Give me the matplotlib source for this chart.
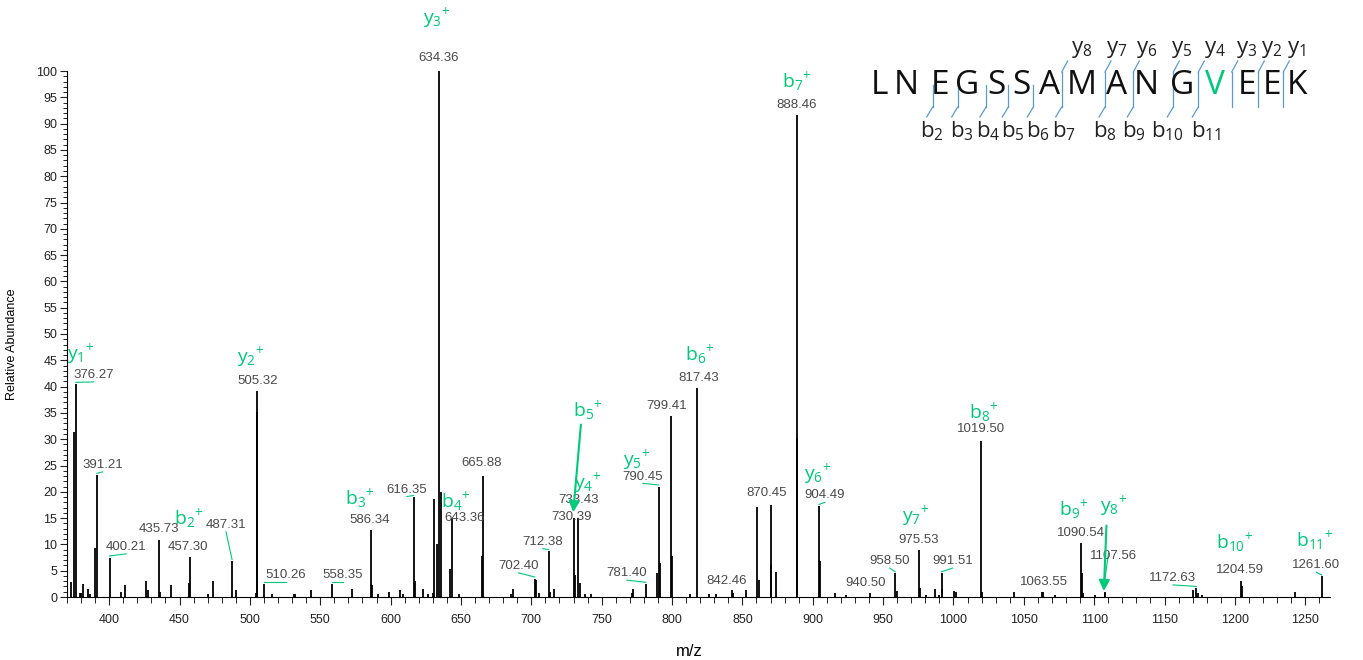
import matplotlib
matplotlib.use('Agg')
import matplotlib.pyplot as plt
from matplotlib.ticker import MultipleLocator

# labelled peaks (m/z, relative abundance) and where their labels sit
lab_mz = [376.27, 391.21, 400.21, 435.73, 457.30, 487.31, 505.32, 510.26, 558.35,
          586.34, 616.35, 634.36, 643.36, 665.88, 702.40, 712.38, 730.39, 733.43,
          781.40, 790.45, 799.41, 817.43, 842.46, 870.45, 888.46, 904.49, 940.50,
          958.50, 975.53, 991.51, 1019.50, 1063.55, 1090.54, 1107.56, 1172.63,
          1204.59, 1261.60]
lab_int = [40.5, 23.2, 7.5, 10.8, 7.6, 6.8, 39.2, 2.5, 2.5,
           12.7, 19.0, 100.0, 14.8, 23.0, 3.5, 8.7, 15.0, 15.1,
           2.5, 21.0, 34.4, 39.7, 1.3, 17.5, 91.6, 17.3, 0.7,
           4.5, 9.0, 4.5, 29.7, 1.0, 10.3, 1.0, 1.7,
           3.1, 3.9]
lab_txt_mz = [388.9, 395.3, 412.0, 435.3, 455.6, 483.0, 505.6, 525.4, 565.9,
              585.4, 611.6, 634.36, 652.4, 665.0, 690.8, 708.1, 728.3, 733.7,
              767.9, 779.3, 796.4, 818.6, 838.6, 867.0, 888.46, 908.7, 937.3,
              954.7, 975.3, 999.4, 1019.3, 1064.0, 1090.9, 1113.7, 1156.0,
              1203.7, 1257.9]
lab_txt_int = [42.2, 25.1, 9.5, 13.0, 9.5, 13.7, 41.1, 4.1, 4.1,
               14.7, 20.4, 102.5, 15.1, 25.4, 5.9, 10.5, 15.3, 18.4,
               4.5, 22.9, 36.3, 41.6, 3.0, 19.7, 93.5, 19.3, 2.6,
               6.8, 10.9, 6.8, 31.9, 2.9, 12.2, 7.8, 3.6,
               5.2, 6.0]
# labels joined to their peak by a small green leader
leader_mz = [376.27, 391.21, 400.21, 487.31, 510.26, 558.35, 616.35, 702.40,
             712.38, 781.40, 790.45, 904.49, 958.50, 991.51, 1172.63, 1261.60]

# unlabelled peaks
other_mz = [372.5, 374.8, 379.4, 380.2, 381.5, 384.8, 386.5, 389.6, 408.7, 411.5,
            426.0, 427.5, 436.1, 444.2, 457.0, 469.9, 473.5, 490.1, 504.2, 504.9,
            515.9, 531.2, 532.0, 543.7, 572.8, 587.1, 590.9, 598.5, 606.4, 608.5,
            617.1, 623.0, 626.6, 629.8, 631.0, 632.9, 635.8, 642.4, 648.3, 664.9,
            685.6, 686.8, 703.4, 705.7, 713.6, 715.9, 730.8, 734.9, 738.2, 742.5,
            771.5, 772.6, 789.2, 791.1, 800.2, 812.5, 826.2, 831.0, 843.0, 852.8,
            860.6, 861.6, 870.1, 874.2, 889.1, 905.5, 915.7, 923.6, 959.7, 976.5,
            980.8, 987.0, 989.5, 992.0, 1000.7, 1001.9, 1020.5, 1042.9, 1062.6,
            1072.2, 1091.4, 1092.0, 1100.8, 1108.0, 1170.4, 1173.5, 1176.4,
            1205.3, 1242.5]
other_int = [2.8, 31.3, 0.8, 0.8, 2.5, 1.6, 0.5, 9.3, 0.9, 2.2,
             3.0, 1.3, 1.0, 2.2, 2.7, 0.6, 3.0, 1.3, 0.8, 35.1,
             0.5, 0.6, 0.6, 1.3, 1.6, 2.3, 0.6, 0.9, 1.3, 0.6,
             3.0, 1.6, 0.5, 0.8, 18.6, 10.0, 20.0, 5.4, 0.5, 7.8,
             0.5, 1.5, 3.2, 0.8, 1.0, 1.6, 4.2, 2.7, 0.5, 0.5,
             0.7, 1.5, 4.5, 6.4, 7.7, 0.5, 0.5, 0.5, 0.8, 1.3,
             17.2, 3.2, 6.1, 4.8, 30.2, 6.8, 0.7, 0.4, 1.2, 1.8,
             0.4, 1.5, 0.4, 1.5, 1.2, 1.0, 1.0, 1.0, 0.9,
             0.4, 4.6, 0.7, 0.4, 0.7, 1.3, 0.7, 0.3,
             2.1, 1.0]

# fragment ion annotations (green)
ion_names = ['y_{1}', 'y_{2}', 'b_{2}', 'b_{3}', 'y_{3}', 'b_{4}', 'b_{5}', 'y_{4}', 'y_{5}',
             'b_{6}', 'b_{7}', 'y_{6}', 'y_{7}', 'b_{8}', 'b_{9}', 'y_{8}', 'b_{10}', 'b_{11}']
ion_mz = [379.4, 500.8, 456.8, 578.3, 633.0, 646.4, 740.1, 740.1, 775.0,
          820.0, 888.8, 903.7, 973.3, 1021.8, 1085.2, 1113.7, 1200.2, 1256.6]
ion_int = [46.2, 45.6, 14.9, 18.7, 110.0, 18.1, 35.4, 21.7, 26.0,
           46.0, 97.9, 23.3, 15.4, 35.1, 16.6, 17.3, 10.3, 10.6]

# peptide sequence and fragment positions
sequence = 'LNEGSSAMANGVEEK'
b_cuts = [2, 3, 4, 5, 6, 7, 8, 9, 10, 11]
y_cuts = [8, 7, 6, 5, 4, 3, 2, 1]

GREEN = '#00c97a'
W, H = 1363, 660

plt.rcParams['font.family'] = ['Liberation Sans', 'DejaVu Sans']
plt.rcParams['mathtext.fontset'] = 'custom'
plt.rcParams['mathtext.rm'] = 'Open Sans'

fig = plt.figure(figsize=(W / 100, H / 100), dpi=100)
ax = fig.add_axes([67 / W, 1 - 597 / H, (1330 - 67) / W, (597 - 71) / H])

ax.vlines(other_mz, 0, other_int, color='black', lw=1.3)
ax.vlines(lab_mz, 0, lab_int, color='black', lw=1.3)

ax.set_xlim(370, 1267.6)
ax.set_ylim(0, 100)
for s in ['top', 'right']:
    ax.spines[s].set_visible(False)
ax.xaxis.set_major_locator(MultipleLocator(50))
ax.xaxis.set_minor_locator(MultipleLocator(10))
ax.yaxis.set_major_locator(MultipleLocator(5))
ax.yaxis.set_minor_locator(MultipleLocator(1))
ax.tick_params(axis='x', which='major', length=6, labelsize=9, pad=6, colors='#222222')
ax.tick_params(axis='x', which='minor', length=4)
ax.tick_params(axis='y', which='major', length=5, labelsize=9, pad=2, colors='#222222')
ax.tick_params(axis='y', which='minor', length=3)
ax.set_ylabel('Relative Abundance', fontsize=9)
ax.yaxis.set_label_coords(-0.039, 0.48)
ax.set_xlabel('m/z', fontsize=12)
ax.xaxis.set_label_coords(0.493, -0.09)

# peak m/z labels
for m, i, tm, ti in zip(lab_mz, lab_int, lab_txt_mz, lab_txt_int):
    ax.text(tm, ti, '%.2f' % m, ha='center', va='center', fontsize=9.5,
            color='#4a4a4a', clip_on=False, zorder=4)
    if m in leader_mz:
        ax.plot([m, tm], [i + 0.3, ti - 1.3], color=GREEN, lw=0.8, zorder=3)

# ion labels
for name, m, i in zip(ion_names, ion_mz, ion_int):
    ax.text(m, i, r'$\mathregular{%s{}^{+}}$' % name, ha='center', va='center',
            fontsize=14, color=GREEN, family='Open Sans', clip_on=False, zorder=5)

arrow = dict(arrowstyle='-|>', color=GREEN, lw=1.5, mutation_scale=16)
ax.annotate('', xy=(729.6, 15.6), xytext=(735.4, 33.3), arrowprops=arrow, zorder=5)
ax.annotate('', xy=(1106.8, 0.6), xytext=(1108.8, 14.1), arrowprops=arrow, zorder=5)
ax.plot([1110.2, 1107.5], [8.3, 3.2], color=GREEN, lw=0.8)

# sequence diagram in the top right, in pixel positions
def fx(x):
    return x / W

def fy(y):
    return 1 - y / H

letter_x = [880, 906.7, 940, 966.7, 996.7, 1021.7, 1050, 1081.7, 1116.7, 1146.7,
            1181.7, 1215, 1246.7, 1271.7, 1296.7]
sep_x = [932.7, 957.7, 986, 1008.3, 1033.3, 1061.7, 1105, 1133.3, 1173.3, 1198.3,
         1231.7, 1258.3, 1283.3]
b_lab_x = [932, 962, 988, 1013, 1038, 1064, 1105, 1134, 1167, 1206]
BLUE = '#5b9bd5'

for k, ch in enumerate(sequence):
    fig.text(fx(letter_x[k]), fy(85), ch, ha='center', va='center', fontsize=24,
             family='Open Sans', color=GREEN if ch == 'V' else '#111111')

for j, x in enumerate(sep_x):
    cut = j + 2  # residues before this separator
    has_b = cut in b_cuts
    ncut = len(sequence) - cut
    has_y = ncut in y_cuts
    top = 72 if has_y else 85
    fig.add_artist(plt.Line2D([fx(x), fx(x)], [fy(top), fy(107)], color=BLUE, lw=0.9))
    if has_b:
        fig.add_artist(plt.Line2D([fx(x), fx(x - 6)], [fy(107), fy(117)], color=BLUE, lw=0.9))
        fig.text(fx(b_lab_x[b_cuts.index(cut)]), fy(131), r'$\mathregular{b_{%d}}$' % cut,
                 ha='center', va='center', fontsize=16, family='Open Sans', color='#222222')
    if has_y:
        fig.add_artist(plt.Line2D([fx(x), fx(x + 6)], [fy(top), fy(61)], color=BLUE, lw=0.9))
        fig.text(fx(letter_x[cut]), fy(49), r'$\mathregular{y_{%d}}$' % ncut, ha='center',
                 va='center', fontsize=16, family='Open Sans', color='#222222')

fig.savefig('out.png', dpi=100)
